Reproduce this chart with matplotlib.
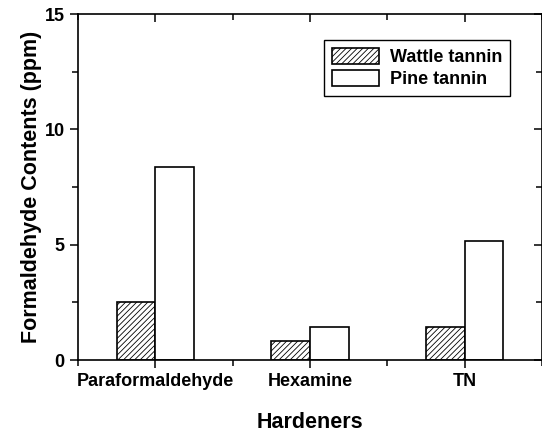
import numpy as np
import matplotlib
matplotlib.use('Agg')
import matplotlib.pyplot as plt
from matplotlib.ticker import MultipleLocator

plt.rcParams['font.family'] = ['Liberation Sans', 'DejaVu Sans']
plt.rcParams['font.weight'] = 'bold'
plt.rcParams['axes.labelweight'] = 'bold'
plt.rcParams['hatch.linewidth'] = 0.6

# data
hardeners = ['Paraformaldehyde', 'Hexamine', 'TN']
wattle = [2.53, 0.82, 1.42]
pine = [8.35, 1.42, 5.16]

x = np.arange(len(hardeners))
w = 0.25

fig = plt.figure(figsize=(5.42, 4.34), dpi=100)
ax = fig.add_axes([0.1439, 0.1705, 0.8561, 0.7972])

ax.bar(x - w / 2, wattle, w, facecolor='white', edgecolor='black',
       linewidth=1.2, hatch='//////', label='Wattle tannin')
ax.bar(x + w / 2, pine, w, facecolor='white', edgecolor='black',
       linewidth=1.2, label='Pine tannin')

ax.set_xlim(-0.5, 2.5)
ax.set_ylim(0, 15)
ax.set_xticks(x)
ax.set_xticklabels(hardeners)
ax.xaxis.set_minor_locator(MultipleLocator(0.5))
ax.yaxis.set_major_locator(MultipleLocator(5))
ax.yaxis.set_minor_locator(MultipleLocator(2.5))

# outer ticks on left/bottom, inner ticks on top/right
ax.tick_params(which='both', direction='out', width=1.1, labelsize=13)
ax.tick_params(which='major', length=6)
ax.tick_params(which='minor', length=4)
ax.tick_params(which='both', top=True, right=True, labeltop=False, labelright=False)
for t in ax.xaxis.get_ticklines(minor=False)[1::2] + ax.xaxis.get_ticklines(minor=True)[1::2]:
    t.set_marker(matplotlib.lines.TICKDOWN)
for t in ax.yaxis.get_ticklines(minor=False)[1::2] + ax.yaxis.get_ticklines(minor=True)[1::2]:
    t.set_marker(matplotlib.lines.TICKLEFT)
for s in ax.spines.values():
    s.set_linewidth(1.2)

ax.set_xlabel('Hardeners', fontsize=15.5, fontweight='bold', labelpad=16)
ax.set_ylabel('Formaldehyde Contents (ppm)', fontsize=15.5, fontweight='bold', labelpad=2)

leg = ax.legend(loc='upper right', bbox_to_anchor=(0.932, 0.925), fontsize=13,
                fancybox=False, framealpha=1, edgecolor='black',
                handlelength=2.6, handleheight=1.0, borderpad=0.45,
                labelspacing=0.2, handletextpad=0.6, borderaxespad=0)
leg.get_frame().set_linewidth(1.0)

fig.savefig('out.png', dpi=100)
